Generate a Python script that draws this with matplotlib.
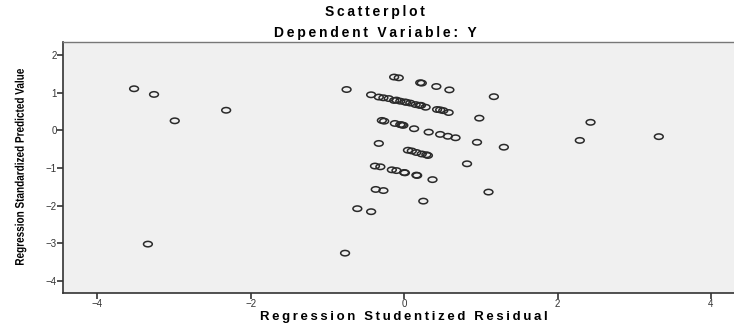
import numpy as np
import matplotlib
matplotlib.use("Agg")
import matplotlib.pyplot as plt
from matplotlib.path import Path
from matplotlib.transforms import Affine2D, IdentityTransform
from matplotlib.textpath import TextPath
from matplotlib.patches import PathPatch
from matplotlib.font_manager import FontProperties

plt.rcParams['font.family'] = ['Liberation Sans', 'DejaVu Sans']

# studentized residual (x) and standardized predicted value (y)
resid = [-3.52, -3.26, -2.99, -2.32, -3.34,
         -0.75, -0.77,
         -0.13, -0.07, 0.21, 0.23, 0.42, 0.59, 1.17,
         -0.43, -0.33, -0.27, -0.20, -0.13, -0.10, -0.05, 0.01, 0.03, 0.08,
         0.15, 0.20, 0.22, 0.28, 0.43, 0.47, 0.51, 0.58, 0.98,
         -0.29, -0.26, -0.12, -0.05, -0.03, -0.01, 0.13, 0.32, 0.47, 0.57, 0.67,
         0.95, 1.30, -0.33,
         0.05, 0.10, 0.16, 0.23, 0.29, 0.31, 0.82,
         -0.38, -0.31, -0.16, -0.10, 0.00, 0.01, 0.16, 0.17, 0.37, 1.10,
         -0.37, -0.27, 0.25, -0.61, -0.43,
         2.43, 2.29, 3.32]
pred = [1.10, 0.95, 0.25, 0.53, -3.02,
        1.08, -3.26,
        1.41, 1.39, 1.26, 1.25, 1.16, 1.07, 0.89,
        0.94, 0.88, 0.86, 0.84, 0.79, 0.80, 0.77, 0.75, 0.74, 0.72,
        0.68, 0.66, 0.66, 0.61, 0.55, 0.54, 0.52, 0.47, 0.32,
        0.26, 0.24, 0.18, 0.15, 0.14, 0.13, 0.04, -0.05, -0.11, -0.16, -0.20,
        -0.32, -0.45, -0.35,
        -0.53, -0.55, -0.59, -0.63, -0.65, -0.67, -0.89,
        -0.95, -0.97, -1.05, -1.07, -1.12, -1.13, -1.19, -1.20, -1.31, -1.64,
        -1.57, -1.60, -1.88, -2.08, -2.16,
        0.21, -0.27, -0.17]

xticks = [-4, -2, 0, 2, 4]
yticks = [-4, -3, -2, -1, 0, 1, 2]
ylabel = 'Regression Standardized Predicted Value'


def spaced(s):
    # SPSS draws its titles with loose letter spacing
    return '\u2009'.join(s)


W, H = 734, 326

# flattened circle like the SPSS marker
ell = Path.unit_circle().transformed(Affine2D().scale(1.0, 0.62))

fig = plt.figure(figsize=(W / 100, H / 100), dpi=100)
ax = fig.add_axes([0.0858, 0.102, 0.9142, 0.768])
ax.set_facecolor('#f0f0f0')
ax.scatter(resid, pred, marker=ell, s=40, facecolors='none',
           edgecolors='#2a2a2a', linewidths=1.1)

ax.set_xlim(-4.447, 4.30)
ax.set_ylim(-4.31, 2.33)
ax.set_xticks(xticks)
ax.set_yticks(yticks)
ax.tick_params(direction='out', length=4, width=1.2, color='#333333',
               labelsize=7, labelcolor='#333333', pad=0.5)
for s in ['left', 'bottom']:
    ax.spines[s].set_color('#333333')
    ax.spines[s].set_linewidth(1.2)
ax.spines['top'].set_color('#777777')
ax.spines['top'].set_linewidth(1.0)
ax.spines['right'].set_visible(False)

fig.text(404 / W, 0.0276, spaced('Regression Studentized Residual'), ha='center',
         va='center', fontsize=9.5, fontweight='bold')

# condensed bold y label (SPSS uses a narrow face here)
tp = TextPath((0, 0), ylabel, size=12.5,
              prop=FontProperties(family='Liberation Sans', weight='bold'))
ext = tp.get_extents()
tr = (Affine2D().translate(-ext.x0 - ext.width / 2, -ext.y0 - ext.height / 2)
      .scale(196 / ext.width, 1.0).rotate_deg(90).translate(20.5, H - 167))
fig.add_artist(PathPatch(tr.transform_path(tp), transform=IdentityTransform(),
                         facecolor='black', edgecolor='none'))

fig.text(375 / W, 0.963, spaced('Scatterplot'), ha='center', va='center',
         fontsize=10, fontweight='bold')
fig.text(375 / W, 0.898, spaced('Dependent Variable: Y'), ha='center', va='center',
         fontsize=10, fontweight='bold')

fig.savefig('out.png', dpi=100)
